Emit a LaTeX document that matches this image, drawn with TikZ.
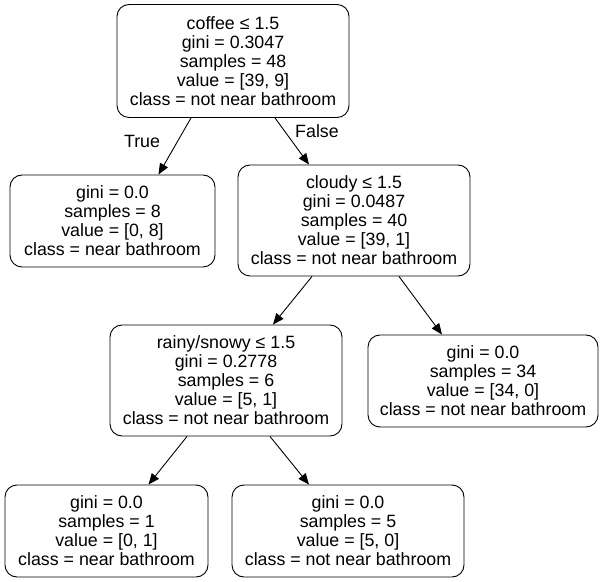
\documentclass[tikz,border=0pt]{standalone}
\usepackage{fontspec}
\setmainfont{Liberation Sans}
\usetikzlibrary{arrows.meta,calc}
\begin{document}
\begin{tikzpicture}[x=1pt,y=1pt,
  treenode/.style={draw=black, line width=0.9pt, rounded corners=12pt, align=center,
    font=\fontsize{17.8}{19}\selectfont, inner sep=0pt},
  edge/.style={draw=black, line width=0.9pt, -{Stealth[length=11pt,width=9pt,inset=0pt]}},
  elabel/.style={font=\fontsize{17.8}{19}\selectfont}]
\useasboundingbox (0,0) rectangle (604,581);
\node[treenode, minimum width=232pt, minimum height=113pt] (root) at (233,520)
  {coffee ≤ 1.5\\gini = 0.3047\\samples = 48\\value = [39, 9]\\class = not near bathroom};
\node[treenode, minimum width=205pt, minimum height=92pt] (left) at (112.5,360)
  {gini = 0.0\\samples = 8\\value = [0, 8]\\class = near bathroom};
\node[treenode, minimum width=232pt, minimum height=111pt] (cloudy) at (354,360.5)
  {cloudy ≤ 1.5\\gini = 0.0487\\samples = 40\\value = [39, 1]\\class = not near bathroom};
\node[treenode, minimum width=232pt, minimum height=111pt] (rainy) at (226,200.5)
  {rainy/snowy ≤ 1.5\\gini = 0.2778\\samples = 6\\value = [5, 1]\\class = not near bathroom};
\node[treenode, minimum width=230pt, minimum height=92pt] (right) at (483,200)
  {gini = 0.0\\samples = 34\\value = [34, 0]\\class = not near bathroom};
\node[treenode, minimum width=203pt, minimum height=92pt] (bl) at (106.5,50)
  {gini = 0.0\\samples = 1\\value = [0, 1]\\class = near bathroom};
\node[treenode, minimum width=232pt, minimum height=92pt] (br) at (348,50)
  {gini = 0.0\\samples = 5\\value = [5, 0]\\class = not near bathroom};
\draw[edge] ($(root.south)+(-42,0)$) -- ($(left.north)+(46,0)$);
\draw[edge] ($(root.south)+(42,0)$) -- ($(cloudy.north)+(-45,0)$);
\draw[edge] ($(cloudy.south)+(-42,0)$) -- ($(rainy.north)+(47,0)$);
\draw[edge] ($(cloudy.south)+(45,0)$) -- ($(right.north)+(-41,0)$);
\draw[edge] ($(rainy.south)+(-39,0)$) -- ($(bl.north)+(42,0)$);
\draw[edge] ($(rainy.south)+(44,0)$) -- ($(br.north)+(-39,0)$);
\node[elabel] (tlabel) at (142,440) {True};
\node[elabel] (flabel) at (317,450) {False};
\end{tikzpicture}
\end{document}
